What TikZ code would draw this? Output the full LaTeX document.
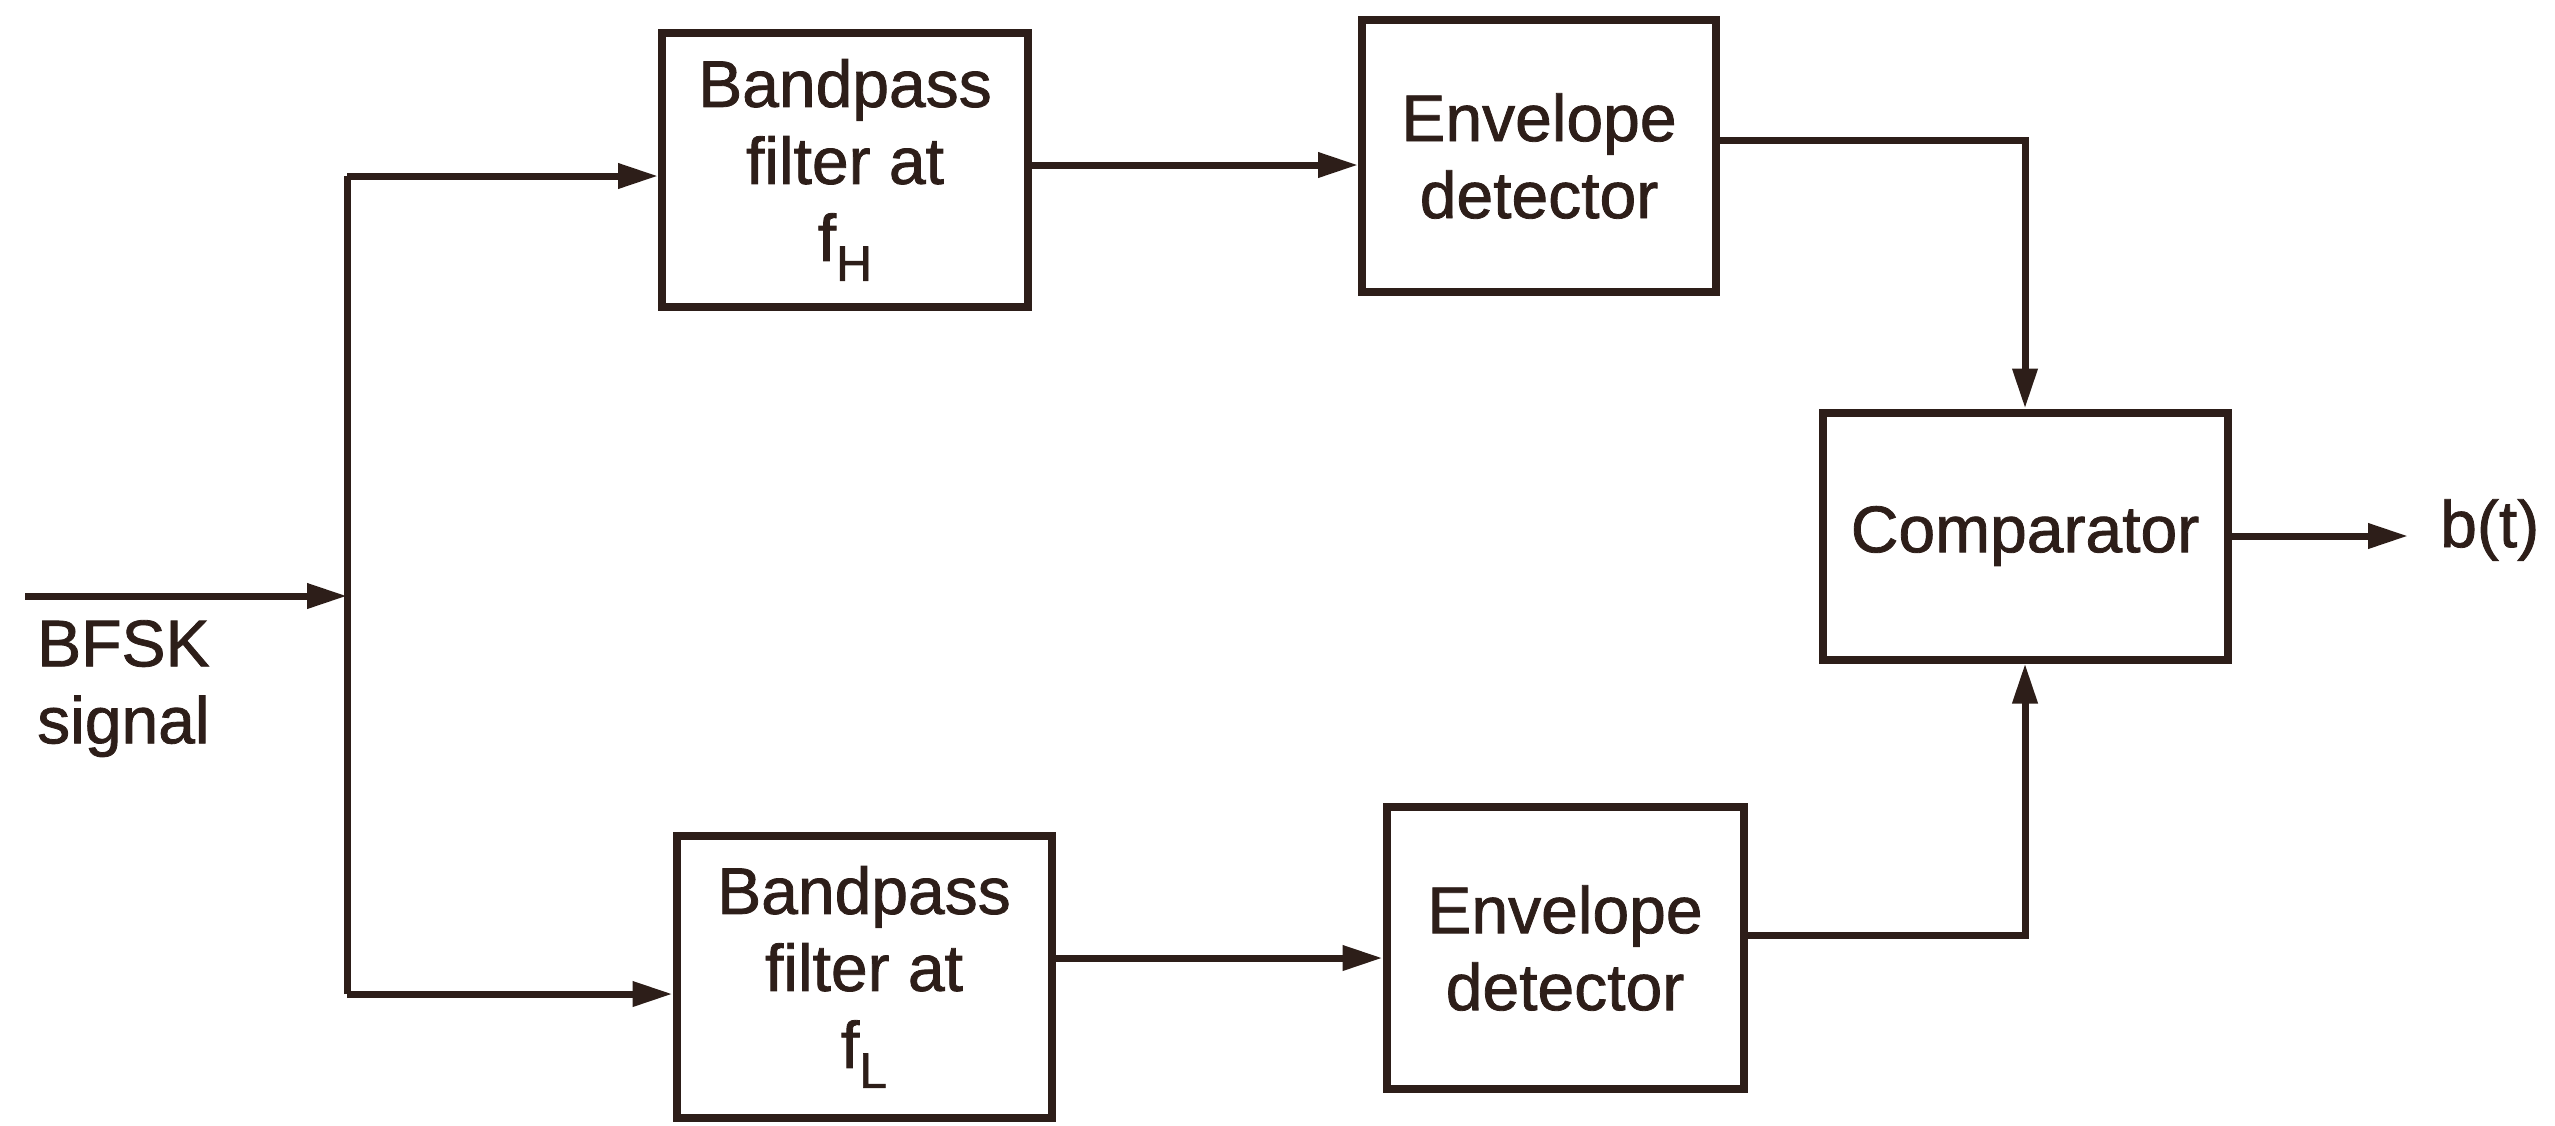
\documentclass[tikz,border=0pt]{standalone}
\usepackage{fontspec}
\setmainfont{Liberation Sans}
\newfontfamily\semib{Liberation Sans}[FakeBold=1.2]
\usetikzlibrary{arrows.meta}
\definecolor{ink}{RGB}{45,30,25}
\begin{document}
\begin{tikzpicture}[x=1pt,y=-1pt,
  blk/.style={draw=ink,line width=8pt,rectangle,inner sep=0pt,align=center,
    text=ink,font=\fontsize{66}{77}\selectfont\semib},
  arr/.style={draw=ink,line width=7pt,-{Triangle[length=40pt,width=24pt]}},
  ln/.style={draw=ink,line width=7pt},
  lbl/.style={text=ink,font=\fontsize{66}{77}\selectfont\semib,inner sep=0pt}]
\useasboundingbox (0,0) rectangle (2555,1125);
\newcommand{\sbs}[1]{\raisebox{-20pt}{\fontsize{50}{50}\selectfont #1}}
% blocks
\node[blk,minimum width=366pt,minimum height=274pt] (bpfH) at (845,170) {Bandpass\\filter at\\f\sbs{H}};
\node[blk,minimum width=354pt,minimum height=272pt] (envH) at (1539,156) {Envelope\\detector};
\node[blk,minimum width=405pt,minimum height=247pt] (comp) at (2025,536) {Comparator};
\node[blk,minimum width=375pt,minimum height=282pt] (bpfL) at (864,977) {Bandpass\\filter at\\f\sbs{L}};
\node[blk,minimum width=357pt,minimum height=282pt] (envL) at (1565,948) {Envelope\\detector};
% labels
\node[lbl,anchor=north west,align=left] (bfsk) at (37,620) {BFSK\\signal};
\node[lbl,anchor=west] (bt) at (2440,530) {b(t)};
% coordinates
\coordinate (in) at (25,596);
\coordinate (j) at (347,596);
\coordinate (jt) at (347,176);
\coordinate (jb) at (347,994);
\coordinate (out) at (2408,536);
% connectors
\draw[arr] (in) -- (j);
\draw[ln] (jb) -- (jt);
\draw[arr] (jt) -- (jt -| bpfH.west);
\draw[arr] (jb) -- (jb -| bpfL.west);
\draw[arr] (bpfH.east |- 0,165) -- (envH.west |- 0,165);
\draw[arr] (bpfL.east |- 0,958) -- (envL.west |- 0,958);
\draw[arr] (envH.east |- 0,140) -| (comp.north);
\draw[arr] (envL.east |- 0,935) -| (comp.south);
\draw[arr] (comp.east) -- (out);
\end{tikzpicture}
\end{document}
